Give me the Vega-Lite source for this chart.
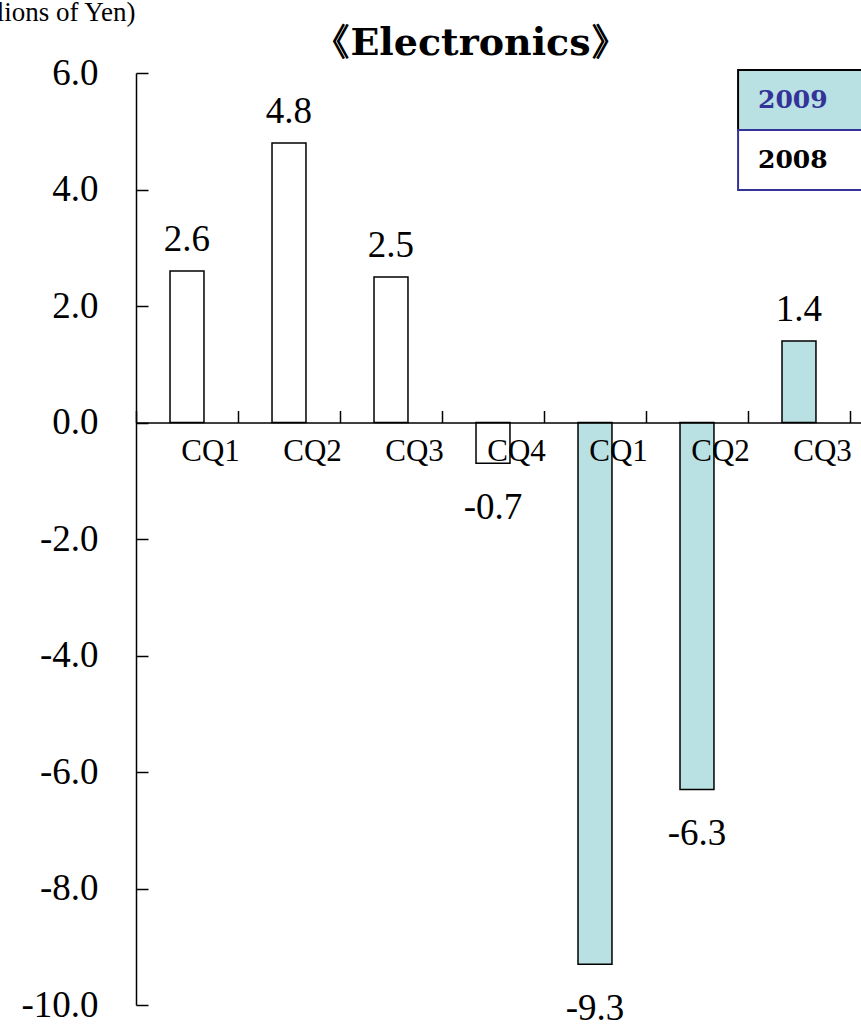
{
  "$schema": "https://vega.github.io/schema/vega-lite/v6.json",
  "width": 725,
  "height": 932,
  "autosize": {"type": "none"},
  "padding": {"left": 136, "top": 73, "right": 0, "bottom": 20},
  "background": "white",
  "title": {
    "text": "《Electronics》",
    "font": "DejaVu Serif",
    "fontSize": 38,
    "fontWeight": "bold",
    "color": "black",
    "anchor": "middle",
    "frame": "group",
    "dx": -28,
    "baseline": "alphabetic",
    "offset": -95
  },
  "config": {
    "view": {"stroke": null},
    "locale": {
      "number": {"decimal": ".", "thousands": ",", "grouping": [3], "currency": ["$", ""], "minus": "-"}
    },
    "axis": {"grid": false, "domainColor": "black", "tickColor": "black", "labelColor": "black", "titleColor": "black", "domainWidth": 1.5, "tickWidth": 1.5},
    "legend": {
      "orient": "none",
      "title": null,
      "padding": 0,
      "rowPadding": 0,
      "symbolType": "M-2.42,-1.154H2.42V1.154H-2.42Z",
      "symbolSize": 2704,
      "symbolStrokeWidth": 2,
      "symbolOpacity": 1,
      "labelFont": "DejaVu Serif",
      "labelFontSize": 25,
      "labelFontWeight": "bold",
      "labelOffset": -70
    }
  },
  "data": {
    "values": [
      {"key": "2008 CQ1", "year": "2008", "value": 2.6},
      {"key": "2008 CQ2", "year": "2008", "value": 4.8},
      {"key": "2008 CQ3", "year": "2008", "value": 2.5},
      {"key": "2008 CQ4", "year": "2008", "value": -0.7},
      {"key": "2009 CQ1", "year": "2009", "value": -9.3},
      {"key": "2009 CQ2", "year": "2009", "value": -6.3},
      {"key": "2009 CQ3", "year": "2009", "value": 1.4}
    ]
  },
  "encoding": {
    "x": {
      "field": "key",
      "type": "nominal",
      "sort": null,
      "scale": {"paddingInner": 0, "paddingOuter": 0.054, "align": 0},
      "axis": {
        "title": null,
        "orient": "bottom",
        "offset": -582.5,
        "zindex": 1,
        "tickBand": "extent",
        "tickSize": -12,
        "labelAngle": 0,
        "labelFont": "Liberation Serif",
        "labelFontSize": 31,
        "labelOffset": 23,
        "labelPadding": 41,
        "labelBaseline": "middle",
        "labelExpr": "split(datum.label, ' ')[1]"
      }
    },
    "y": {
      "field": "value",
      "type": "quantitative",
      "scale": {"domain": [-10, 6], "nice": false},
      "axis": {
        "title": "(Billions of Yen)",
        "titleAngle": 0,
        "titleAlign": "right",
        "titleBaseline": "alphabetic",
        "titleX": -1,
        "titleY": -53,
        "titleFont": "Liberation Serif",
        "titleFontSize": 27,
        "titleFontWeight": "normal",
        "values": [-10, -8, -6, -4, -2, 0, 2, 4, 6],
        "format": ".1f",
        "labelFont": "Liberation Serif",
        "labelFontSize": 37,
        "labelPadding": 50,
        "labelFlush": false,
        "labelOverlap": false,
        "tickSize": -12
      }
    }
  },
  "layer": [
    {
      "mark": {"type": "bar", "stroke": "black", "strokeWidth": 1.5, "width": {"band": 0.333}},
      "encoding": {
        "fill": {
          "field": "year",
          "type": "nominal",
          "scale": {"domain": ["2009", "2008"], "range": ["#b9e0e2", "#ffffff"]},
          "legend": {
            "values": ["2009"],
            "legendX": 638,
            "legendY": 0,
            "symbolStrokeColor": "#000000",
            "labelColor": "#333399"
          }
        },
        "opacity": {
          "field": "year",
          "type": "nominal",
          "scale": {"domain": ["2008", "2009"], "range": [1, 1]},
          "legend": {
            "values": ["2008"],
            "legendX": 638,
            "legendY": 60,
            "symbolFillColor": "#ffffff",
            "symbolStrokeColor": "#333399",
            "labelColor": "#000000"
          }
        }
      }
    },
    {
      "transform": [{"filter": "datum.value >= 0"}],
      "mark": {"type": "text", "font": "Liberation Serif", "fontSize": 37, "color": "black", "baseline": "middle", "dy": -31},
      "encoding": {"text": {"field": "value", "type": "quantitative", "format": ".1f"}}
    },
    {
      "transform": [{"filter": "datum.value < 0"}],
      "mark": {"type": "text", "font": "Liberation Serif", "fontSize": 37, "color": "black", "baseline": "middle", "dy": 45},
      "encoding": {"text": {"field": "value", "type": "quantitative", "format": ".1f"}}
    }
  ]
}
